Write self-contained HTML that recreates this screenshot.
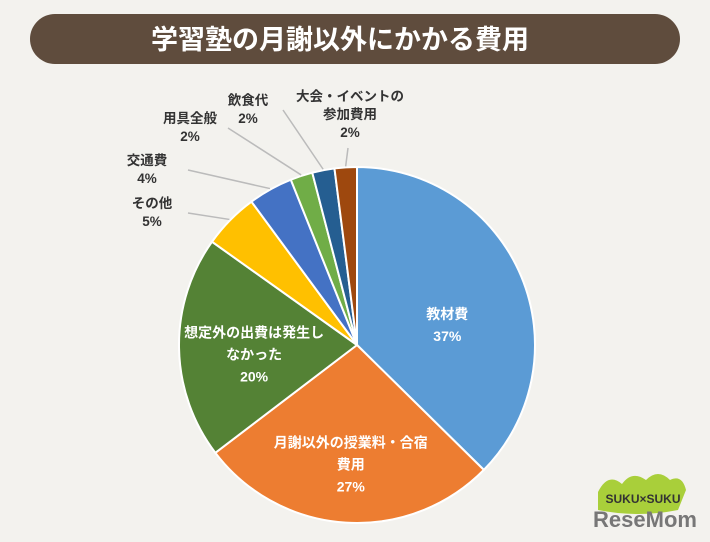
<!DOCTYPE html>
<html><head><meta charset="utf-8"><style>
body{margin:0;width:710px;height:537px;background:#f3f2ee;overflow:hidden;font-family:"Liberation Sans","Noto Sans CJK JP",sans-serif;}
</style></head><body>
<svg width="710" height="537">
<rect x="30" y="14" width="650" height="50" rx="25" fill="#5f4c3d"/>
<text x="340" y="49" text-anchor="middle" font-size="27" font-weight="bold" fill="#fff" font-family="Liberation Sans, Noto Sans CJK JP, sans-serif">学習塾の月謝以外にかかる費用</text>
<g id="slices"></g><g id="labels" font-family="Liberation Sans, Noto Sans CJK JP, sans-serif" font-weight="bold" text-anchor="middle"></g>
<g>
<path d="M598 492 q10 -20 24 -8 q10 -14 24 -4 q12 -12 24 0 q12 -6 16 10 l-8 20 q-40 8 -80 0z" fill="#a9cf3a"/>
<text x="643" y="503" text-anchor="middle" font-size="12" font-weight="bold" fill="#333">SUKU×SUKU</text>
<text x="645" y="527" text-anchor="middle" font-size="22" font-weight="bold" fill="#777">ReseMom</text>
</g>
</svg>
<script>
const categories=["教材費","月謝以外の授業料・合宿費用","想定外の出費は発生しなかった","その他","交通費","用具全般","飲食代","大会・イベントの参加費用"];
const values=[37,27,20,5,4,2,2,2];
const colors=["#5b9bd5","#ed7d31","#548235","#ffc000","#4472c4","#70ad47","#255e91","#9e480e"];
const labelLines=[["教材費","37%"],["月謝以外の授業料・合宿","費用","27%"],["想定外の出費は発生し","なかった","20%"],["その他","5%"],["交通費","4%"],["用具全般","2%"],["飲食代","2%"],["大会・イベントの","参加費用","2%"]];
const cx=357,cy=345,r=178,NS="http://www.w3.org/2000/svg";
const total=values.reduce((a,b)=>a+b,0);
const sg=document.getElementById('slices'),lg=document.getElementById('labels');
const pt=(a,rr)=>[cx+rr*Math.sin(a),cy-rr*Math.cos(a)];
let a0=0;
values.forEach((v,i)=>{
 const a1=a0+v/total*2*Math.PI;
 const p0=pt(a0,r),p1=pt(a1,r);
 const p=document.createElementNS(NS,'path');
 p.setAttribute('d',`M${cx},${cy}L${p0[0]},${p0[1]}A${r},${r} 0 ${a1-a0>Math.PI?1:0} 1 ${p1[0]},${p1[1]}Z`);
 p.setAttribute('fill',colors[i]);p.setAttribute('stroke','#fff');p.setAttribute('stroke-width','2');
 
 
 sg.appendChild(p);
 const mid=(a0+a1)/2;
 let lx,ly,fill,fs,lh;
 if(i<3){const q=pt(mid,r*0.55);lx=q[0]+[0,0,-5][i];ly=q[1]-(labelLines[i].length-1)*11+[18,22,8][i];fill='#fff';fs=14;lh=22;}
 else{
  const e=pt(mid,r+1);
  const outR=[0,0,0,[160,213],[160,170],[200,128],[265,110],[348,148]][i];
  const ln=document.createElementNS(NS,'line');
  ln.setAttribute('x1',e[0]);ln.setAttribute('y1',e[1]);
  const ex=i===7?outR[0]:outR[0]+(i<6?28:18);
  ln.setAttribute('x2',ex);ln.setAttribute('y2',outR[1]);
  ln.setAttribute('stroke','#bbb');ln.setAttribute('stroke-width','1.5');
  
  
  lg.appendChild(ln);
  const pos=[0,0,0,[152,203],[147,160],[190,118],[248,100],[350,96]][i];
  lx=pos[0];ly=pos[1];fill='#333';fs=13.5;lh=18;
 }
 labelLines[i].forEach((s,k)=>{
  const t=document.createElementNS(NS,'text');
  t.setAttribute('x',lx);t.setAttribute('y',ly+k*lh+5);t.setAttribute('fill',fill);t.setAttribute('font-size',fs);
  t.textContent=s;
  
  
  lg.appendChild(t);
 });
 a0=a1;
});
</script>
</body></html>
